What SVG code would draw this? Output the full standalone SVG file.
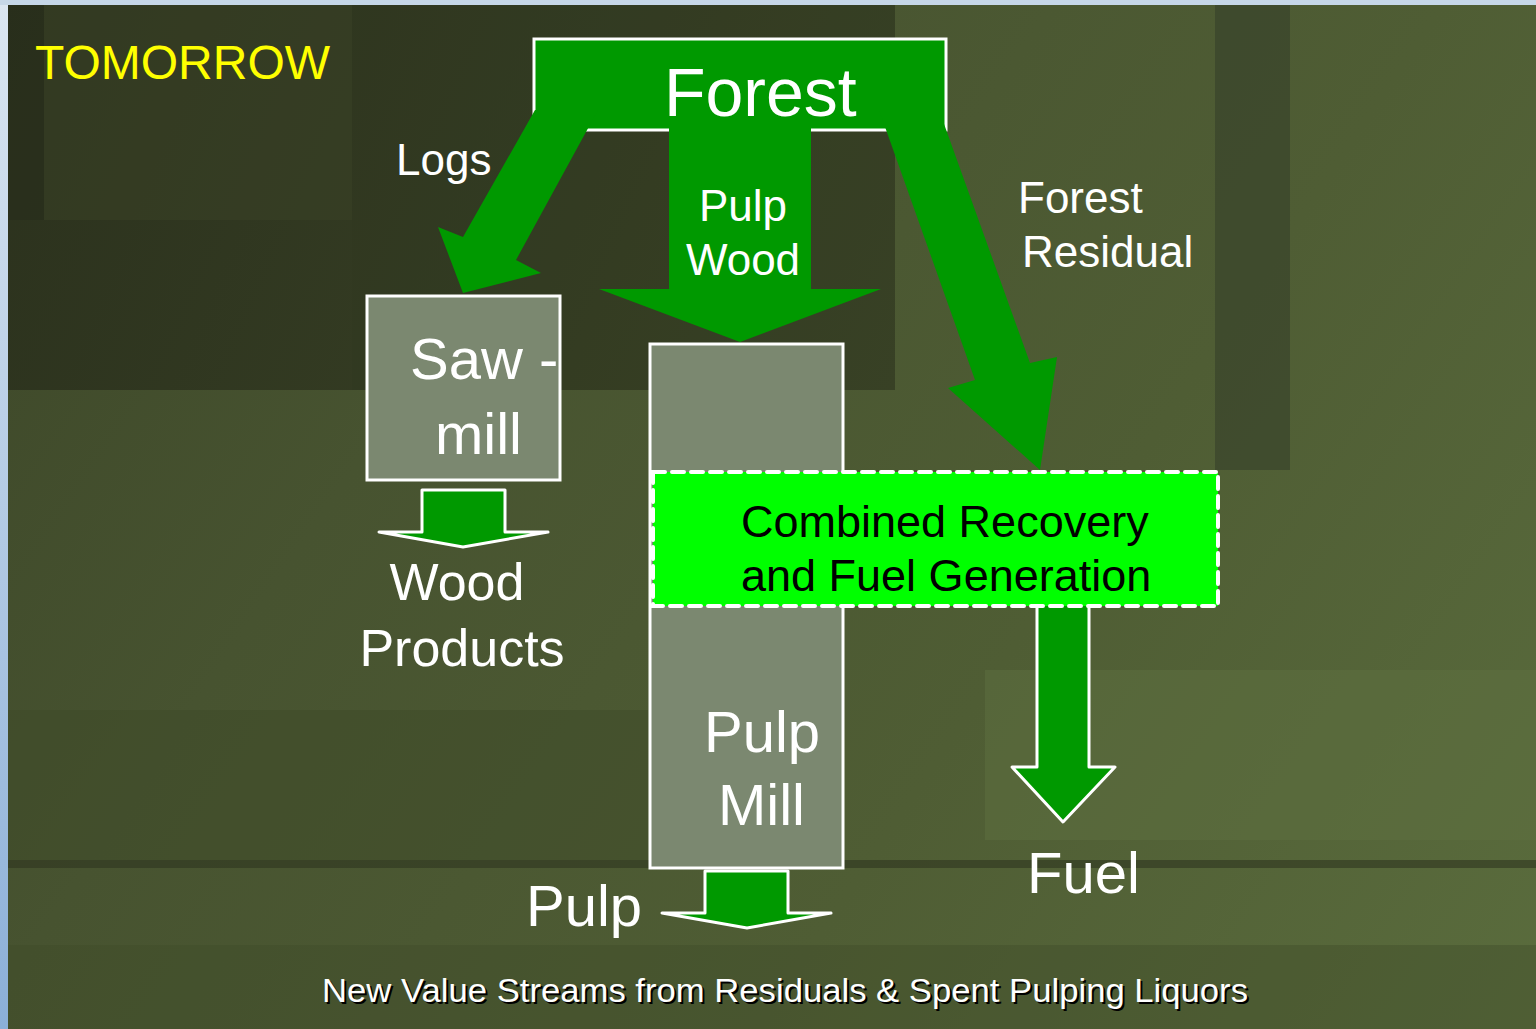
<svg xmlns="http://www.w3.org/2000/svg" width="1536" height="1029" viewBox="0 0 1536 1029">
<defs>
<linearGradient id="bg" x1="0" y1="0" x2="1536" y2="1029" gradientUnits="userSpaceOnUse">
<stop offset="0" stop-color="#3c4628"/>
<stop offset="0.3" stop-color="#475330"/>
<stop offset="0.65" stop-color="#4f5d34"/>
<stop offset="1" stop-color="#5a6c3d"/>
</linearGradient>
<linearGradient id="dark" x1="0" y1="0" x2="895" y2="390" gradientUnits="userSpaceOnUse">
<stop offset="0" stop-color="#2b311d"/>
<stop offset="1" stop-color="#3b4427"/>
</linearGradient>
<linearGradient id="frame" x1="0" y1="0" x2="0" y2="1">
<stop offset="0" stop-color="#dbe6f1"/>
<stop offset="1" stop-color="#8bafd8"/>
</linearGradient>
<style>
.flow{fill:#009900;}
.outl{fill:#009900;stroke:#ffffff;stroke-width:3;stroke-linejoin:round;}
.box{fill:#7b8870;stroke:#ffffff;stroke-width:3;}
.t{font-family:"Liberation Sans",Arial,sans-serif;fill:#ffffff;}
</style>
</defs>
<rect x="0" y="0" width="1536" height="1029" fill="url(#frame)"/>
<rect x="0" y="0" width="1536" height="5" fill="#c6d7e8"/>
<rect x="8" y="5" width="1528" height="1024" fill="url(#bg)"/>
<rect x="8" y="5" width="887" height="385" fill="url(#dark)"/>
<g>
<rect x="8" y="5" width="36" height="215" fill="#262b1a" opacity="0.5"/>
<rect x="44" y="5" width="308" height="215" fill="#3a4226" opacity="0.5"/>
<rect x="352" y="5" width="543" height="385" fill="#2f3520" opacity="0.2"/>
<rect x="1215" y="5" width="75" height="465" fill="#36402a" opacity="0.6"/>
<rect x="8" y="710" width="640" height="150" fill="#3e4928" opacity="0.5"/>
<rect x="8" y="860" width="1528" height="8" fill="#2f3620" opacity="0.6"/>
<rect x="8" y="945" width="1528" height="84" fill="#3f4a28" opacity="0.4"/>
<rect x="985" y="670" width="551" height="170" fill="#5d6f40" opacity="0.5"/>
</g>

<g id="title">
<text class="t" x="35" y="79" font-size="48" style="fill:#ffff00">TOMORROW</text>
</g>

<g id="forest">
<rect x="534" y="39" width="412" height="91" fill="#009900" stroke="#ffffff" stroke-width="3"/>
</g>

<g id="connectors">
<polygon id="logs-arrow" class="flow" points="535,110 463,237 438,227 463,293 541,273 516,260 598,110"/>
<polygon id="pulpwood-arrow" class="flow" points="669,125 669,289 599,289 740,342 881,289 811,289 811,125"/>
<polygon id="residual-arrow" class="flow" points="879,110 975,380 948,388 1040,470 1057,357 1030,363 939,110"/>
<polygon id="woodproducts-arrow" class="outl" points="422,490 422,532 379,532 463,547 548,532 505,532 505,490"/>
<polygon id="pulp-arrow" class="outl" points="705,871 705,913 662,913 747,928 831,913 788,913 788,871"/>
<polygon id="fuel-arrow" class="outl" stroke-width="2" points="1037,604 1037,767 1012,767 1063,822 1115,767 1089,767 1089,604"/>
</g>

<g id="forest-label">
<text class="t" x="664" y="116" font-size="68">Forest</text>
</g>

<g id="sawmill">
<rect class="box" x="367" y="296" width="193" height="184"/>
<text class="t" x="410" y="379" font-size="58">Saw -</text>
<text class="t" x="435" y="454" font-size="58">mill</text>
</g>

<g id="pulpmill">
<rect class="box" x="650" y="344" width="193" height="524"/>
<text class="t" x="704" y="752" font-size="58">Pulp</text>
<text class="t" x="718" y="825" font-size="58">Mill</text>
</g>

<g id="combined">
<rect x="653" y="472" width="565" height="134" fill="#00ff00" stroke="#ffffff" stroke-width="4" stroke-dasharray="12 7" stroke-linecap="round"/>
<text class="t" x="741" y="537" font-size="45" style="fill:#000000">Combined Recovery</text>
<text class="t" x="741" y="591" font-size="45" style="fill:#000000">and Fuel Generation</text>
</g>

<g id="labels">
<text class="t" x="396" y="175" font-size="44">Logs</text>
<text class="t" x="743" y="221" font-size="44" text-anchor="middle">Pulp</text>
<text class="t" x="743" y="275" font-size="44" text-anchor="middle">Wood</text>
<text class="t" x="1018" y="213" font-size="44">Forest</text>
<text class="t" x="1022" y="267" font-size="44">Residual</text>
</g>

<g id="wood-products">
<text class="t" x="457" y="600" font-size="52" text-anchor="middle">Wood</text>
<text class="t" x="462" y="666" font-size="52" text-anchor="middle">Products</text>
</g>

<g id="pulp">
<text class="t" x="526" y="926" font-size="58">Pulp</text>
</g>

<g id="fuel">
<text class="t" x="1027" y="893" font-size="58">Fuel</text>
</g>

<g id="caption">
<text class="t" x="324" y="1004" font-size="34" textLength="926" lengthAdjust="spacingAndGlyphs" style="fill:#000000">New Value Streams from Residuals &amp; Spent Pulping Liquors</text>
<text class="t" x="322" y="1002" font-size="34" textLength="926" lengthAdjust="spacingAndGlyphs">New Value Streams from Residuals &amp; Spent Pulping Liquors</text>
</g>
</svg>
